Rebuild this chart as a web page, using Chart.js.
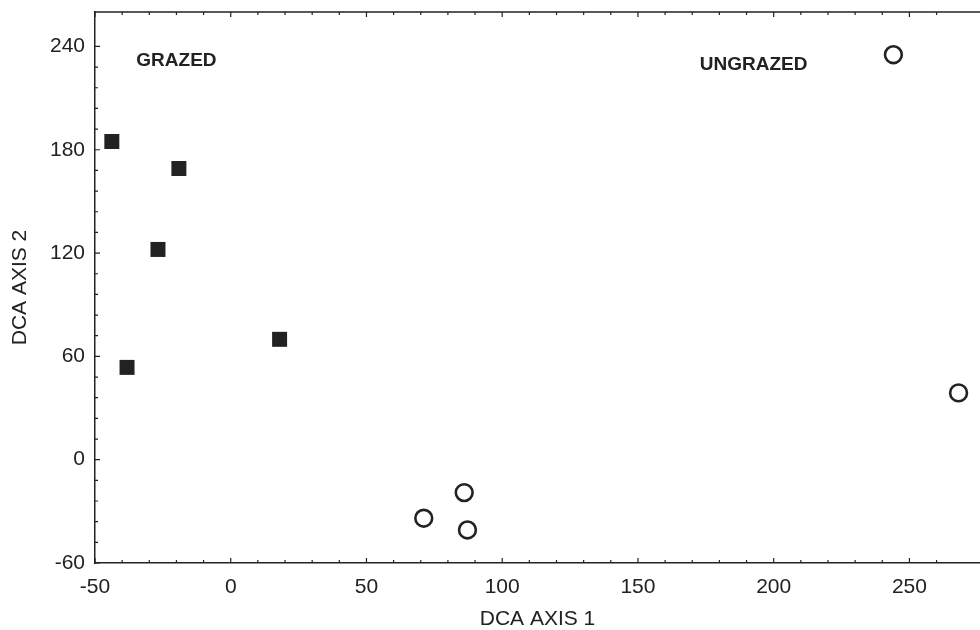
<!DOCTYPE html>
<html>
<head>
<meta charset="utf-8">
<script src="https://cdn.jsdelivr.net/npm/chart.js@4/dist/chart.umd.min.js"></script>
<style>
  html, body { margin: 0; padding: 0; background: #fff; }
  #wrap { width: 980px; height: 630px; }
</style>
</head>
<body>
<div id="wrap"><canvas id="c" width="980" height="630"></canvas></div>
<script>
// DCA ordination scores
const grazedX = [-43.8, -19.1, -26.8, -38.2, 18.0];
const grazedY = [184.8, 169.1, 122.1, 53.6, 69.9];
const ungrazedX = [244.1, 268.1, 86.0, 71.1, 87.2];
const ungrazedY = [235.2, 38.8, -19.1, -34.0, -40.8];

const groupLabels = ["GRAZED", "UNGRAZED"];
const groupLabelX = [-20, 192.6];
const groupLabelY = [231.7, 229.4];

const xTitle = "DCA AXIS 1";
const yTitle = "DCA AXIS 2";

const ink = "#222222";
const font = "'Liberation Sans', Arial, sans-serif";

function toPoints(xs, ys) {
  return xs.map((x, i) => ({ x, y: ys[i] }));
}

// inward tick marks on left, bottom and top, plus top frame line and group labels
const frame = {
  id: "frame",
  afterDatasetsDraw(chart) {
    const { ctx, chartArea: a, scales } = chart;
    ctx.save();
    ctx.strokeStyle = ink;
    ctx.lineWidth = 1.5;
    ctx.beginPath();
    ctx.moveTo(a.left, a.top);
    ctx.lineTo(a.right, a.top);
    ctx.stroke();

    ctx.lineWidth = 1.2;
    ctx.beginPath();
    scales.x.ticks.forEach(t => {
      if (t.value % 10 !== 0) return;
      const px = scales.x.getPixelForValue(t.value);
      const len = t.value % 50 === 0 ? 5 : 3;
      ctx.moveTo(px, a.bottom);
      ctx.lineTo(px, a.bottom - len);
      ctx.moveTo(px, a.top);
      ctx.lineTo(px, a.top + len);
    });
    scales.y.ticks.forEach(t => {
      if (t.value % 12 !== 0) return;
      const py = scales.y.getPixelForValue(t.value);
      const len = t.value % 60 === 0 ? 5 : 3;
      ctx.moveTo(a.left, py);
      ctx.lineTo(a.left + len, py);
    });
    ctx.stroke();

    ctx.fillStyle = ink;
    ctx.font = "bold 19px " + font;
    ctx.textAlign = "center";
    ctx.textBaseline = "middle";
    groupLabels.forEach((s, i) => {
      ctx.fillText(s, scales.x.getPixelForValue(groupLabelX[i]), scales.y.getPixelForValue(groupLabelY[i]));
    });
    ctx.restore();
  }
};

new Chart(document.getElementById("c"), {
  type: "scatter",
  data: {
    datasets: [{
      label: "Grazed",
      data: toPoints(grazedX, grazedY),
      pointStyle: "rect",
      pointRadius: 10.6,
      backgroundColor: ink,
      borderColor: ink,
      borderWidth: 0
    }, {
      label: "Ungrazed",
      data: toPoints(ungrazedX, ungrazedY),
      pointStyle: "circle",
      pointRadius: 8.4,
      backgroundColor: "rgba(0,0,0,0)",
      borderColor: ink,
      borderWidth: 2.6
    }]
  },
  options: {
    responsive: false,
    animation: false,
    layout: { autoPadding: false, padding: { top: 12, right: 0, left: 0, bottom: 0 } },
    plugins: {
      legend: { display: false },
      tooltip: { enabled: false }
    },
    scales: {
      x: {
        type: "linear",
        min: -50,
        max: 276,
        grid: { display: false },
        border: { display: true, color: ink, width: 1.5 },
        ticks: {
          stepSize: 10,
          autoSkip: false,
          maxRotation: 0,
          padding: 4,
          color: ink,
          font: { family: font, size: 21 },
          callback: v => (v % 50 === 0 ? v : "")
        },
        title: {
          display: true,
          text: xTitle,
          color: ink,
          font: { family: font, size: 21 },
          padding: { top: -2, bottom: -2 }
        },
        afterFit: s => {
          s.height = 67;
          s.paddingLeft = 0;
          s.paddingRight = 0;
        }
      },
      y: {
        type: "linear",
        min: -60,
        max: 260,
        grid: { display: false },
        border: { display: true, color: ink, width: 1.5 },
        ticks: {
          stepSize: 12,
          autoSkip: false,
          padding: 2,
          color: ink,
          font: { family: font, size: 21 },
          callback: v => (v % 60 === 0 ? v : "")
        },
        title: {
          display: true,
          text: yTitle,
          color: ink,
          font: { family: font, size: 21 },
          padding: { top: 8, bottom: 0 }
        },
        afterFit: s => {
          s.width = 95;
          s.paddingTop = 0;
          s.paddingBottom = 0;
        }
      }
    }
  },
  plugins: [frame]
});
</script>
</body>
</html>
